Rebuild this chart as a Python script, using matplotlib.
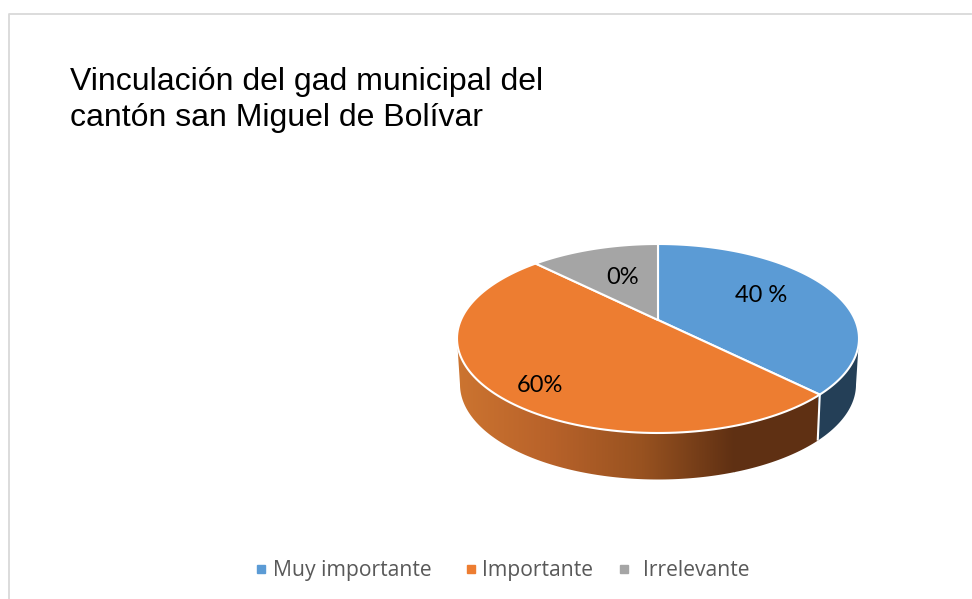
"""Recreate the 3D pie chart on the vinculación del gad municipal."""

import numpy as np
import matplotlib.pyplot as plt
from matplotlib.colors import LinearSegmentedColormap
from matplotlib.patches import Polygon

title_lines = ['Vinculación del gad municipal del', 'cantón san Miguel de Bolívar']
categories = ['Muy importante', 'Importante', 'Irrelevante']
# shares as drawn in the slices, the printed labels do not agree with them
slice_shares = [37.5, 50.0, 12.5]
slice_labels = ['40 %', '60%', '0%']
colors = ['#5b9bd5', '#ed7d31', '#a5a5a5']

# pie geometry in pixels
CX, CY = 658, 338.5
RX, RY = 201, 94.5
APEX_SHIFT = 18.5
BOTTOM_CY, BOTTOM_RX, BOTTOM_RY = 384.5, 198, 95
K = APEX_SHIFT / RY


def project(theta):
    """Angle clockwise from 12 o'clock -> pixel on the tilted top face."""
    u, v = np.sin(theta), np.cos(theta)
    w = 1 + K * v
    x = CX + RX * np.sqrt(1 - K**2) * u / w
    y = CY - (RY * v + APEX_SHIFT) / w
    return x, y


fig = plt.figure(figsize=(9.72, 5.99), dpi=100)
ax = fig.add_axes([0, 0, 1, 1])
ax.set_xlim(0, 972)
ax.set_ylim(599, 0)
ax.axis('off')

# frame around the chart
ax.plot([971, 8.5, 8.5], [14, 14, 599], color='#d9d9d9', lw=1.3, zorder=1)

# side of the pie: gradient for orange, dark blue for the rest
arc = np.linspace(np.pi, 0, 200)
side_xy = np.vstack([
    np.column_stack([CX + RX * np.cos(arc), CY - 0 * arc]),
    np.column_stack([CX + BOTTOM_RX * np.cos(arc[::-1]),
                     BOTTOM_CY + BOTTOM_RY * np.sin(arc[::-1])]),
])
side_clip = Polygon(side_xy, closed=True, transform=ax.transData, fc='none', ec='none')
ax.add_patch(side_clip)

side_cmap = LinearSegmentedColormap.from_list(
    'side', ['#cc7430', '#b8622a', '#985220', '#5f3013'])
split_theta = 2 * np.pi * slice_shares[0] / sum(slice_shares)
split_x, split_y = project(split_theta)
orange_im = ax.imshow(np.linspace(0, 1, 256)[None, :], cmap=side_cmap, aspect='auto',
                      extent=[457, 735, 599, 0], zorder=2)
orange_im.set_clip_path(side_clip)
dark_bar = ax.fill_betweenx([200, 520], 734, split_x - 1, color='#5f3013', zorder=2, lw=0)
dark_bar.set_clip_path(side_clip)
blue_bar = ax.fill_betweenx([200, 520], split_x - 2, 870, color='#243f57', zorder=2, lw=0)
blue_bar.set_clip_path(side_clip)
ax.set_xlim(0, 972)
ax.set_ylim(599, 0)

# top face, one wedge per category
edges = 2 * np.pi * np.cumsum([0] + slice_shares) / sum(slice_shares)
for i, color in enumerate(colors):
    th = np.linspace(edges[i], edges[i + 1], 120)
    xs, ys = project(th)
    pts = np.column_stack([np.r_[CX, xs], np.r_[CY - APEX_SHIFT, ys]])
    ax.add_patch(Polygon(pts, closed=True, fc=color, ec='white', lw=1.5,
                         joinstyle='round', zorder=3))

# white divider down the side
ax.plot([split_x, split_x - 2], [split_y, split_y + 45], color='white', lw=1.5, zorder=4)

# data labels
label_pos = [(761, 295), (540, 386), (623, 278)]
for (lx, ly), txt in zip(label_pos, slice_labels):
    ax.text(lx, ly, txt, ha='center', va='center', fontsize=17,
            family='Lato', color='black', zorder=5)

# title
ax.text(70, 90, title_lines[0], fontsize=23, family='Liberation Sans',
        color='black', ha='left', va='baseline')
ax.text(70, 126, title_lines[1], fontsize=23, family='Liberation Sans',
        color='black', ha='left', va='baseline')

# legend, placed by hand because the gaps in the original are uneven
legend_marker_x = [261, 471, 624]
legend_text_x = [273, 482, 643]
for mx, tx, name, c in zip(legend_marker_x, legend_text_x, categories, colors):
    ax.plot([mx], [569], ls='', marker='s', ms=5.6, mfc=c, mec=c, zorder=5)
    ax.text(tx, 576, name, fontsize=15.2, family='Open Sans', color='#595959',
            ha='left', va='baseline')

fig.savefig('out.png', dpi=100)
